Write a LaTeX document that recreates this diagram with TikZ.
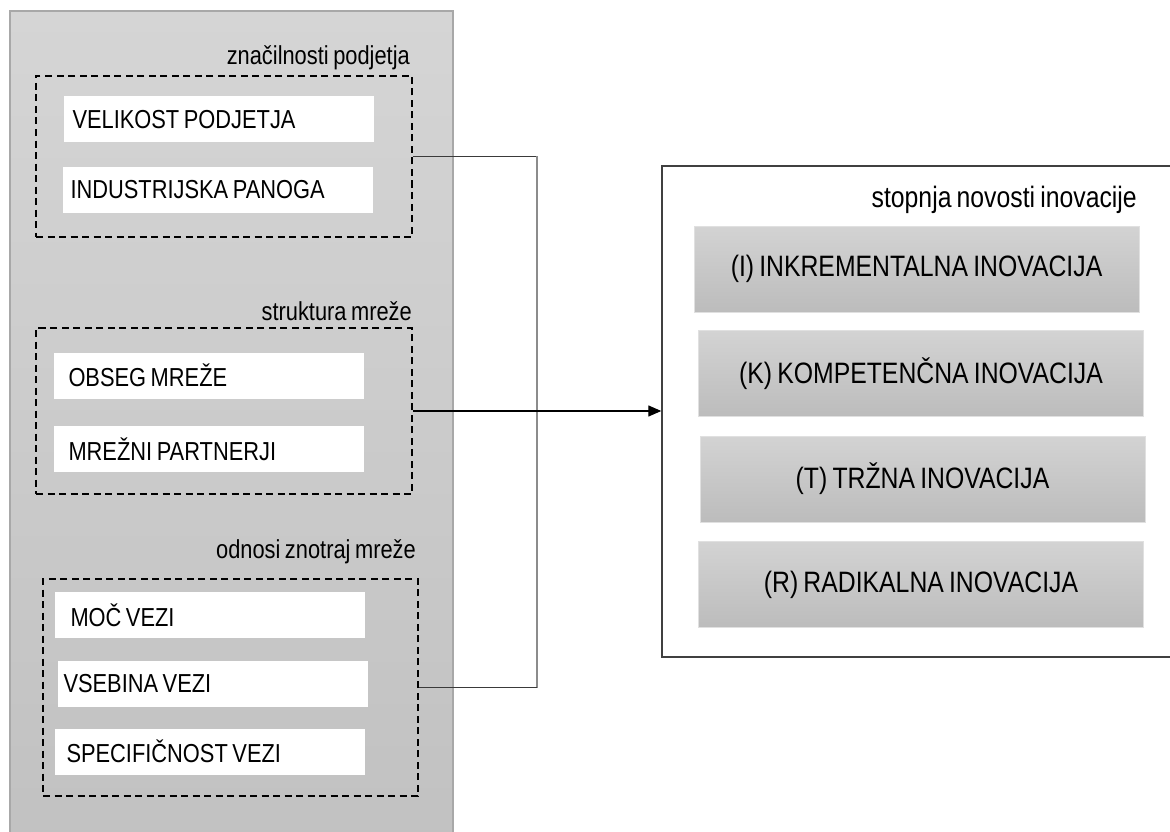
\documentclass[tikz,border=0pt]{standalone}
\usepackage{fontspec}
\setmainfont{Liberation Sans}[FakeStretch=0.84, WordSpace=0.75]
\usetikzlibrary{arrows.meta,positioning}
\definecolor{panelTop}{HTML}{D5D5D5}
\definecolor{panelBot}{HTML}{C1C1C1}
\definecolor{panelEdge}{HTML}{A8A8A8}
\definecolor{levelTop}{HTML}{D3D3D3}
\definecolor{levelBot}{HTML}{BCBCBC}
\definecolor{wire}{HTML}{3A3A3A}
\tikzset{
  itembox/.style={fill=white, inner ysep=0pt, inner xsep=#1, minimum width=310pt, minimum height=46pt,
    text width=310pt-2*#1, align=flush left, font=\fontsize{26}{30}\selectfont},
  groupbox/.style={draw=black, dash pattern=on 7pt off 4.5pt, line width=1.4pt, inner sep=0pt},
  grouplabel/.style={anchor=base east, inner sep=0pt, font=\fontsize{26}{30}\selectfont},
  levelbox/.style={top color=levelTop, bottom color=levelBot, draw=black!12, line width=0.8pt,
    minimum width=445pt, minimum height=86pt, inner sep=0pt, font=\fontsize{29.5}{34}\selectfont},
  conn/.style={draw=wire, line width=1.3pt},
}
\begin{document}
\begin{tikzpicture}[x=1pt, y=-1pt]
\useasboundingbox (0,0) rectangle (1170,832);
\clip (0,0) rectangle (1170,832);
% left panel
\path[top color=panelTop, bottom color=panelBot, draw=panelEdge, line width=1.2pt] (10,11) rectangle (453,850);

% groups of factors
\node[groupbox, minimum width=376pt, minimum height=161pt] (firm) at (224,156.5) {};
\node[grouplabel] (firmlbl) at (410,65) {značilnosti podjetja};
\node[itembox=9pt] (size) at (218.5,119.5) {VELIKOST PODJETJA};
\node[itembox=8pt] (branch) at (217.5,190) {INDUSTRIJSKA PANOGA};

\node[groupbox, minimum width=376pt, minimum height=166pt] (struct) at (224,411) {};
\node[grouplabel] (structlbl) at (412,320) {struktura mreže};
\node[itembox=15pt] (scope) at (208.5,375.5) {OBSEG MREŽE};
\node[itembox=15pt] (partners) at (208.5,449) {MREŽNI PARTNERJI};

\node[groupbox, minimum width=375pt, minimum height=217pt] (ties) at (230.5,687.5) {};
\node[grouplabel] (tieslbl) at (416,558) {odnosi znotraj mreže};
\node[itembox=16pt] (strength) at (209.5,615) {MOČ VEZI};
\node[itembox=6pt] (content) at (212.5,683.5) {VSEBINA VEZI};
\node[itembox=12pt] (specific) at (209.5,751.5) {SPECIFIČNOST VEZI};

% novelty of innovation
\node[draw=black!75, line width=1.4pt, minimum width=530pt, minimum height=491pt, inner sep=0pt] (novelty) at (927,411.5) {};
\node[anchor=base east, inner sep=0pt, font=\fontsize{29.5}{34}\selectfont] (noveltylbl) at (1137,207) {stopnja novosti inovacije};
\node[levelbox] (incr) at (916.5,269) {(I) INKREMENTALNA INOVACIJA};
\node[levelbox] (comp) at (921,373.5) {(K) KOMPETENČNA INOVACIJA};
\node[levelbox] (market) at (922.5,479) {(T) TRŽNA INOVACIJA};
\node[levelbox] (radical) at (921,584.5) {(R) RADIKALNA INOVACIJA};

% connectors
\coordinate (bus) at (537,411);
\coordinate (busTop) at (bus |- firm.east);
\coordinate (busBot) at (bus |- ties.east);
\draw[conn] (firm.east) -- (busTop);
\draw[conn, draw=black!45] (busTop) -- (busBot);
\draw[conn] (busBot) -- (ties.east);
\draw[conn, -{Triangle[length=13pt, width=11pt]}, draw=black] (struct.east) -- (struct.east -| novelty.west);
\end{tikzpicture}
\end{document}
